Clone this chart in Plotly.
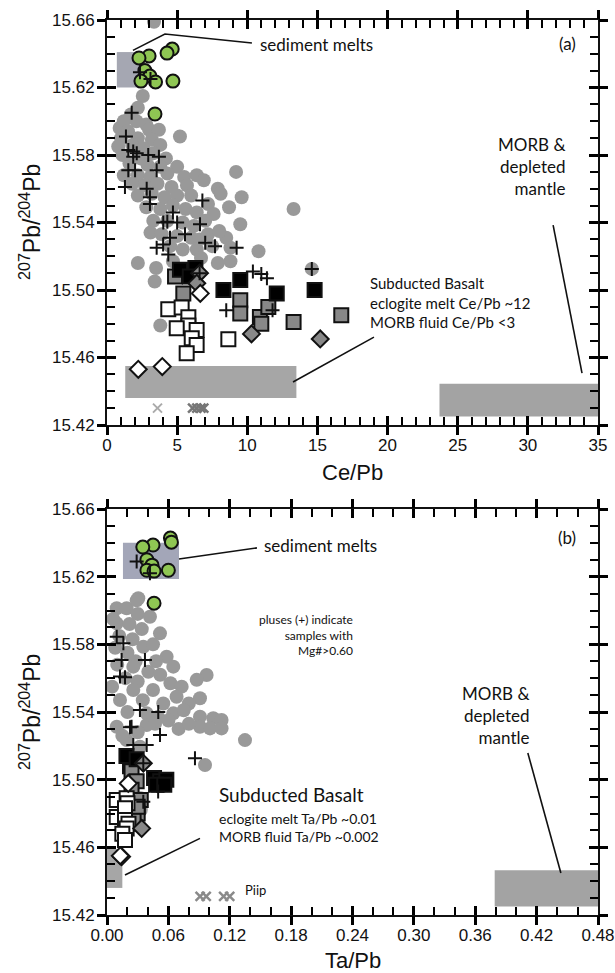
import plotly.graph_objects as go

# ---------------- Panel (a): Ce/Pb vs 207Pb/204Pb ----------------
gray_ce = [3.35, 2.55, 2.2, 1.7, 1.2, 2.1, 2.8, 0.9, 1.5, 3.0, 3.7, 5.2, 1.0, 2.2, 3.2, 0.8, 1.8, 2.6, 3.8,
           1.1, 2.4, 3.3, 4.2, 1.6, 2.9, 3.8, 5.0, 1.2, 2.2, 3.1, 4.3, 5.5, 6.4, 9.2,
           1.8, 2.7, 3.6, 4.6, 5.7, 6.9, 7.9, 2.2, 3.2, 4.1, 5.0, 6.0, 7.2, 8.1, 9.6,
           2.8, 3.8, 4.7, 5.6, 6.4, 8.7, 7.6, 13.3, 3.3, 4.3, 5.4, 6.2, 7.0, 9.5,
           3.1, 3.9, 5.0, 6.0, 6.6, 7.2, 8.5, 8.0, 4.5, 5.4, 6.4, 7.5, 8.8, 10.8,
           2.2, 3.5, 4.7, 6.7, 7.9, 8.8, 3.4, 3.8, 14.6]
gray_pb_a = [15.659, 15.615, 15.608, 15.604, 15.600, 15.600, 15.598, 15.596, 15.594, 15.595, 15.595, 15.591,
             15.590, 15.590, 15.589, 15.585, 15.586, 15.584, 15.586,
             15.580, 15.578, 15.581, 15.578, 15.575, 15.574, 15.573, 15.573, 15.568, 15.568, 15.567, 15.569,
             15.567, 15.568, 15.570,
             15.563, 15.562, 15.563, 15.561, 15.562, 15.565, 15.560, 15.556, 15.557, 15.555, 15.556, 15.556,
             15.551, 15.557, 15.555,
             15.549, 15.548, 15.550, 15.548, 15.546, 15.549, 15.545, 15.548, 15.541, 15.541, 15.540, 15.538,
             15.541, 15.539,
             15.534, 15.533, 15.532, 15.531, 15.530, 15.533, 15.531, 15.535, 15.526, 15.524, 15.524, 15.526,
             15.525, 15.523,
             15.516, 15.513, 15.517, 15.519, 15.516, 15.517, 15.505, 15.479, 15.5125]

plus_ce = [2.35, 3.1, 1.76, 1.35, 1.52, 1.87, 2.12, 1.87, 2.94, 3.7, 1.52, 2.0, 3.54, 1.28, 2.83, 3.06, 3.06,
           6.8, 4.7, 4.01, 5.0, 4.3, 6.63, 4.49, 5.56, 3.54, 4.37, 4.0, 7.0, 7.7, 9.24, 14.6, 10.4, 11.0, 11.4,
           8.5, 11.8, 6.6]
plus_pb_a = [15.629, 15.625, 15.605, 15.591, 15.583, 15.582, 15.581, 15.579, 15.580, 15.579, 15.571, 15.571,
             15.571, 15.561, 15.560, 15.555, 15.551, 15.553, 15.546, 15.540, 15.540, 15.5405, 15.539, 15.531,
             15.533, 15.525, 15.521, 15.527, 15.528, 15.526, 15.525, 15.5125, 15.511, 15.5095, 15.507,
             15.488, 15.488, 15.510]

green_ce = [4.65, 4.28, 3.0, 2.28, 2.7, 3.06, 2.42, 3.46, 4.7, 3.42]
green_pb = [15.6428, 15.6404, 15.6387, 15.6375, 15.630, 15.6268, 15.6238, 15.6233, 15.6238, 15.6043]

blacksq_ce = [5.2, 6.3, 5.9, 8.3, 9.5, 12.1, 14.8]
blacksq_pb_a = [15.512, 15.513, 15.508, 15.500, 15.506, 15.498, 15.500]

graysq_ce = [4.85, 5.44, 9.5, 9.5, 10.9, 11.0, 11.5, 13.3, 16.7]
graysq_pb_a = [15.508, 15.498, 15.494, 15.486, 15.484, 15.480, 15.490, 15.481, 15.485]

whitesq_ce = [4.37, 5.32, 5.8, 5.8, 4.97, 6.39, 6.04, 6.39, 5.68, 8.65]
whitesq_pb_a = [15.4886, 15.4897, 15.4838, 15.479, 15.4773, 15.4763, 15.4714, 15.4674, 15.4625, 15.4708]

graydia_ce = [6.6, 6.4, 10.3, 15.2]
graydia_pb_a = [15.510, 15.504, 15.474, 15.471]

whitedia_ce = [6.65, 2.23, 3.94]
whitedia_pb_a = [15.498, 15.453, 15.4546]

xlight_ce = [3.6]
xlight_pb = [15.430]
piip_ce = [6.1, 6.4, 6.7, 6.9]
piip_pb = [15.430, 15.430, 15.430, 15.430]

# ---------------- Panel (b): Ta/Pb vs 207Pb/204Pb ----------------
gray_ta = [0.0095, 0.0192, 0.0306, 0.029, 0.030, 0.042, 0.0095, 0.022, 0.034, 0.0518, 0.012, 0.025, 0.0355,
           0.045, 0.008, 0.020, 0.0583, 0.048, 0.028, 0.010, 0.0257, 0.0404, 0.0648, 0.052, 0.0974, 0.0877,
           0.018, 0.030, 0.062, 0.073, 0.0257, 0.045, 0.068, 0.0909, 0.0127, 0.035, 0.055, 0.080, 0.0388,
           0.0648, 0.0909, 0.1039, 0.112, 0.020, 0.075, 0.050, 0.0095, 0.0388, 0.047, 0.060, 0.0909, 0.1007,
           0.112, 0.1349, 0.0958, 0.0192, 0.0322, 0.030, 0.070, 0.080, 0.015, 0.033, 0.033, 0.005, 0.006]
gray_pb_b = [15.6013, 15.6013, 15.6072, 15.606, 15.598, 15.5963, 15.5924, 15.592, 15.589, 15.5865, 15.585,
             15.583, 15.5786, 15.580, 15.578, 15.575, 15.5727, 15.570, 15.570, 15.568, 15.5668, 15.5638,
             15.5668, 15.562, 15.5619, 15.559, 15.560, 15.558, 15.557, 15.555, 15.553, 15.553, 15.549,
             15.5481, 15.5471, 15.547, 15.545, 15.545, 15.5392, 15.5392, 15.5372, 15.5363, 15.5353, 15.540,
             15.541, 15.537, 15.5313, 15.5323, 15.533, 15.535, 15.5313, 15.5303, 15.5303, 15.5234, 15.5087,
             15.5234, 15.5195, 15.528, 15.530, 15.533, 15.526, 15.489, 15.482, 15.555, 15.595]

plus_ta = [0.029, 0.042, 0.0095, 0.016, 0.0143, 0.0371, 0.0127, 0.0176, 0.0322, 0.0501, 0.0225, 0.024,
           0.0518, 0.0388, 0.0257, 0.086, 0.0355, 0.0355, 0.050]
plus_pb_b = [15.629, 15.622, 15.5845, 15.5806, 15.5707, 15.5707, 15.561, 15.5605, 15.5412, 15.540, 15.531,
             15.5313, 15.5264, 15.5205, 15.5205, 15.5126, 15.5097, 15.487, 15.493]

green_ta = [0.062, 0.063, 0.045, 0.035, 0.039, 0.044, 0.039, 0.046, 0.060, 0.046]

blacksq_ta = [0.019, 0.029, 0.046, 0.052, 0.058, 0.048, 0.056]
blacksq_pb_b = [15.514, 15.512, 15.501, 15.499, 15.500, 15.497, 15.497]

graysq_ta = [0.0225, 0.024, 0.029, 0.024, 0.033, 0.030, 0.026, 0.030]
graysq_pb_b = [15.508, 15.505, 15.499, 15.494, 15.488, 15.480, 15.476, 15.484]

whitesq_ta = [0.0095, 0.0095, 0.0192, 0.020, 0.0176, 0.0176, 0.021, 0.0192, 0.015, 0.0176]
whitesq_pb_b = [15.488, 15.478, 15.489, 15.486, 15.4831, 15.4762, 15.474, 15.4712, 15.468, 15.4643]

graydia_ta = [0.0355, 0.0339]
graydia_pb_b = [15.5097, 15.4712]

whitedia_ta = [0.0208, 0.0143, 0.013]
whitedia_pb_b = [15.4978, 15.4545, 15.455]

piip_ta = [0.091, 0.097, 0.114, 0.120]
piip_pb_b = [15.431, 15.431, 15.431, 15.431]

# ---------------- reference fields & leader lines ----------------
sed_box_a = [0.7, 2.4, 15.620, 15.641]
basalt_box_a = [1.3, 13.5, 15.436, 15.455]
morb_box_a = [23.7, 35.0, 15.425, 15.4445]
sed_line_a_x = [1.85, 4.13, 10.33]
sed_line_a_y = [15.642, 15.6517, 15.6464]
morb_line_a_x = [31.8, 33.86]
morb_line_a_y = [15.5385, 15.4508]
basalt_line_a_x = [13.26, 19.03]
basalt_line_a_y = [15.4455, 15.4721]

sed_box_b = [0.0156, 0.0704, 15.6186, 15.640]
basalt_box_b = [0.0, 0.015, 15.436, 15.459]
morb_box_b = [0.379, 0.48, 15.425, 15.4465]
sed_line_b_x = [0.0704, 0.1466]
sed_line_b_y = [15.6304, 15.637]
morb_line_b_x = [0.4114, 0.4437]
morb_line_b_y = [15.5158, 15.4448]
basalt_line_b_x = [0.0176, 0.0909]
basalt_line_b_y = [15.4436, 15.4653]

GRAY = "#999999"
TXT = "Lato"
AX = "Liberation Sans"
INK = "#111111"
TICK = "black"

fig = go.Figure()


def pts(x, y, xa, ya, symbol, size, fill, lc=INK, lw=2):
    fig.add_trace(go.Scatter(x=x, y=y, xaxis=xa, yaxis=ya, mode="markers", showlegend=False,
                             hoverinfo="skip",
                             marker=dict(symbol=symbol, size=size, color=fill,
                                         line=dict(color=lc, width=lw))))


def lines(x, y, xa, ya):
    fig.add_trace(go.Scatter(x=x, y=y, xaxis=xa, yaxis=ya, mode="lines", showlegend=False,
                             hoverinfo="skip", line=dict(color=INK, width=1.6)))


# panel a traces
pts(gray_ce, gray_pb_a, "x", "y", "circle", 14, GRAY, lw=0)
pts(graysq_ce, graysq_pb_a, "x", "y", "square", 14, "#888888")
pts(blacksq_ce, blacksq_pb_a, "x", "y", "square", 14, "#000000")
pts(whitesq_ce, whitesq_pb_a, "x", "y", "square", 14, "#ffffff")
pts(graydia_ce, graydia_pb_a, "x", "y", "diamond", 13, "#888888")
pts(whitedia_ce, whitedia_pb_a, "x", "y", "diamond", 13, "#ffffff")
pts(green_ce, green_pb, "x", "y", "circle", 13, "#8fc653")
pts(plus_ce, plus_pb_a, "x", "y", "cross-thin", 10, INK, INK, 2)
pts(xlight_ce, xlight_pb, "x", "y", "x-thin", 9, "#aaaaaa", "#aaaaaa", 2)
pts(piip_ce, piip_pb, "x", "y", "x-thin", 9, "#777777", "#777777", 2.5)
lines(sed_line_a_x, sed_line_a_y, "x", "y")
lines(morb_line_a_x, morb_line_a_y, "x", "y")
lines(basalt_line_a_x, basalt_line_a_y, "x", "y")

# panel b traces
pts(gray_ta, gray_pb_b, "x2", "y2", "circle", 14, GRAY, lw=0)
pts(graysq_ta, graysq_pb_b, "x2", "y2", "square", 14, "#888888")
pts(blacksq_ta, blacksq_pb_b, "x2", "y2", "square", 14, "#000000")
pts(whitesq_ta, whitesq_pb_b, "x2", "y2", "square", 14, "#ffffff")
pts(graydia_ta, graydia_pb_b, "x2", "y2", "diamond", 13, "#888888")
pts(whitedia_ta, whitedia_pb_b, "x2", "y2", "diamond", 13, "#ffffff")
pts(green_ta, green_pb, "x2", "y2", "circle", 13, "#8fc653")
pts(plus_ta, plus_pb_b, "x2", "y2", "cross-thin", 10, INK, INK, 2)
pts(piip_ta, piip_pb_b, "x2", "y2", "x-thin", 9, "#8a8a8a", "#8a8a8a", 2.5)
lines(sed_line_b_x, sed_line_b_y, "x2", "y2")
lines(morb_line_b_x, morb_line_b_y, "x2", "y2")
lines(basalt_line_b_x, basalt_line_b_y, "x2", "y2")

# dummy traces for overlay axes (outer half of crossing ticks)
for xa, ya in (("x3", "y3"), ("x4", "y4")):
    fig.add_trace(go.Scatter(x=[None], y=[None], xaxis=xa, yaxis=ya, showlegend=False, hoverinfo="skip"))


# boxes
def box(b, xref, yref, color):
    fig.add_shape(type="rect", xref=xref, yref=yref, x0=b[0], x1=b[1], y0=b[2], y1=b[3],
                  fillcolor=color, line=dict(width=0), layer="below")


box(sed_box_a, "x", "y", "#a5a7b2")
box(basalt_box_a, "x", "y", "#a6a6a6")
box(morb_box_a, "x", "y", "#a3a3a3")
box(sed_box_b, "x2", "y2", "#a3a6b8")
box(basalt_box_b, "x2", "y2", "#a6a6a6")
box(morb_box_b, "x2", "y2", "#a3a3a3")

XD = [107 / 615, 598 / 615]
YA = [1 - 425 / 973, 1 - 20 / 973]
YB = [1 - 915 / 973, 1 - 509 / 973]

tickfont = dict(family=AX, size=17, color=INK)


def main_axis(rng, dtick, minor, dom, anchor, fmt, standoff):
    return dict(range=rng, domain=dom, anchor=anchor, dtick=dtick, tick0=rng[0], tickformat=fmt,
                automargin=False,
                showline=True, linewidth=2, linecolor=INK, mirror="ticks",
                ticks="inside", ticklen=9, tickwidth=2.5, tickcolor=TICK,
                minor=dict(dtick=minor, tick0=rng[0], ticks="inside", ticklen=8, tickwidth=2,
                           tickcolor=TICK, showgrid=False),
                showgrid=False, zeroline=False, tickfont=tickfont, ticklabelstandoff=standoff)


def over_axis(rng, dtick, over, anchor):
    return dict(range=rng, overlaying=over, anchor=anchor, dtick=dtick, tick0=rng[0],
                automargin=False,
                showline=False, mirror="ticks", ticks="outside", ticklen=9, tickwidth=2.5,
                tickcolor=TICK, showticklabels=False, showgrid=False, zeroline=False)


yr = [15.42, 15.66]
fig.update_layout(
    width=615, height=973, margin=dict(l=0, r=0, t=0, b=0, autoexpand=False),
    paper_bgcolor="white", plot_bgcolor="white", showlegend=False,
    xaxis=main_axis([0, 35], 5, 1, XD, "y", "d", 4),
    yaxis=main_axis(yr, 0.04, 0.01, YA, "x", ".2f", 7),
    xaxis2=main_axis([0, 0.48], 0.06, 0.02, XD, "y2", ".2f", 4),
    yaxis2=main_axis(yr, 0.04, 0.01, YB, "x2", ".2f", 7),
    xaxis3=over_axis([0, 35], 5, "x", "y3"),
    yaxis3=over_axis(yr, 0.04, "y", "x3"),
    xaxis4=over_axis([0, 0.48], 0.06, "x2", "y4"),
    yaxis4=over_axis(yr, 0.04, "y2", "x4"),
)

anns = []


def ann(text, x, y, xref, yref, size, xanchor="left", align="left", font=TXT, textangle=0):
    anns.append(dict(text=text, x=x, y=y, xref=xref, yref=yref, showarrow=False, xanchor=xanchor,
                     yanchor="middle", align=align, textangle=textangle,
                     font=dict(family=font, size=size, color=INK)))


# panel a text
ann("sediment melts", 10.76, 15.6452, "x", "y", 17)
ann("(a)", 33.57, 15.6458, "x", "y", 17, xanchor="right")
ann("MORB &<br>depleted<br>mantle", 32.86, 15.573, "x", "y", 17, xanchor="right", align="right")
ann("Subducted Basalt<br>eclogite melt Ce/Pb ~12<br>MORB fluid Ce/Pb <3", 18.6, 15.4923, "x", "y", 15)
# panel b text
ann("sediment melts", 0.1515, 15.6387, "x2", "y2", 17)
ann("(b)", 0.4603, 15.6434, "x2", "y2", 17, xanchor="right")
ann("pluses (+) indicate<br>samples with<br>Mg#>0.60", 0.2424, 15.5855, "x2", "y2", 12,
    xanchor="right", align="right")
ann("MORB &<br>depleted<br>mantle", 0.4153, 15.538, "x2", "y2", 17, xanchor="right", align="right")
ann("Subducted Basalt", 0.1075, 15.4915, "x2", "y2", 19)
ann("eclogite melt Ta/Pb ~0.01<br>MORB fluid Ta/Pb ~0.002", 0.1075, 15.472, "x2", "y2", 14)
ann("Piip", 0.1329, 15.4348, "x2", "y2", 13)
# axis titles
ann("Ce/Pb", 352.5 / 615, 1 - 472 / 973, "paper", "paper", 22, xanchor="center", font=AX)
ann("Ta/Pb", 352.5 / 615, 1 - 960 / 973, "paper", "paper", 22, xanchor="center", font=AX)
ann("<sup>207</sup>Pb/<sup>204</sup>Pb", 30 / 615, 1 - 222 / 973, "paper", "paper", 23,
    xanchor="center", font=AX, textangle=-90)
ann("<sup>207</sup>Pb/<sup>204</sup>Pb", 30 / 615, 1 - 712 / 973, "paper", "paper", 23,
    xanchor="center", font=AX, textangle=-90)
fig.update_layout(annotations=anns)

fig.write_html("out.html")
